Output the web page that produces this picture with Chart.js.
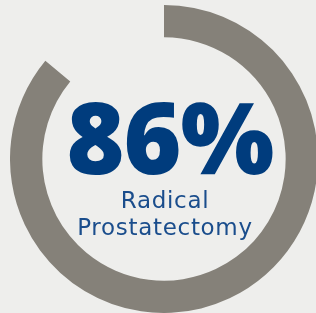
<!DOCTYPE html>
<html>
<head>
<meta charset="utf-8">
<script src="https://cdn.jsdelivr.net/npm/chart.js"></script>
<style>
  html, body { margin: 0; padding: 0; background: #eeeeec; overflow: hidden; width: 316px; height: 313px; }
  #wrap { position: absolute; left: 10px; top: 5px; width: 308px; height: 308px; }
  #ring { display: block; }
  .txt { position: absolute; left: 0; text-align: center; white-space: nowrap; }
  #big { width: 340px; top: 86px; font: 800 99px "Open Sans", sans-serif; line-height: 99px; letter-spacing: -1px; color: #003c7d; }
  #small { width: 330px; top: 187px; font: 400 23px "DejaVu Sans", sans-serif; line-height: 27px; letter-spacing: 0.7px; color: #1a4d8c; }
</style>
</head>
<body>
<div id="wrap"><canvas id="ring" width="308" height="308"></canvas></div>
<div id="big" class="txt"></div>
<div id="small" class="txt"></div>
<script>
// Valeurs du graphique
const labels = ['Radical Prostatectomy', 'Autre'];
const values = [86, 14];
const centerValue = '86%';
const centerLines = ['Radical', 'Prostatectomy'];

document.getElementById('big').textContent = centerValue;
document.getElementById('small').innerHTML = centerLines.join('<br>');

new Chart(document.getElementById('ring').getContext('2d'), {
    type: 'doughnut',
    data: {
        labels: labels,
        datasets: [{
            data: values,
            backgroundColor: ['#858179', 'rgba(0,0,0,0)'],
            borderWidth: 0,
            hoverOffset: 0
        }]
    },
    options: {
        responsive: false,
        animation: false,
        cutout: '79%',
        layout: { padding: 0 },
        plugins: { legend: { display: false }, tooltip: { enabled: false } }
    }
});
</script>
</body>
</html>
